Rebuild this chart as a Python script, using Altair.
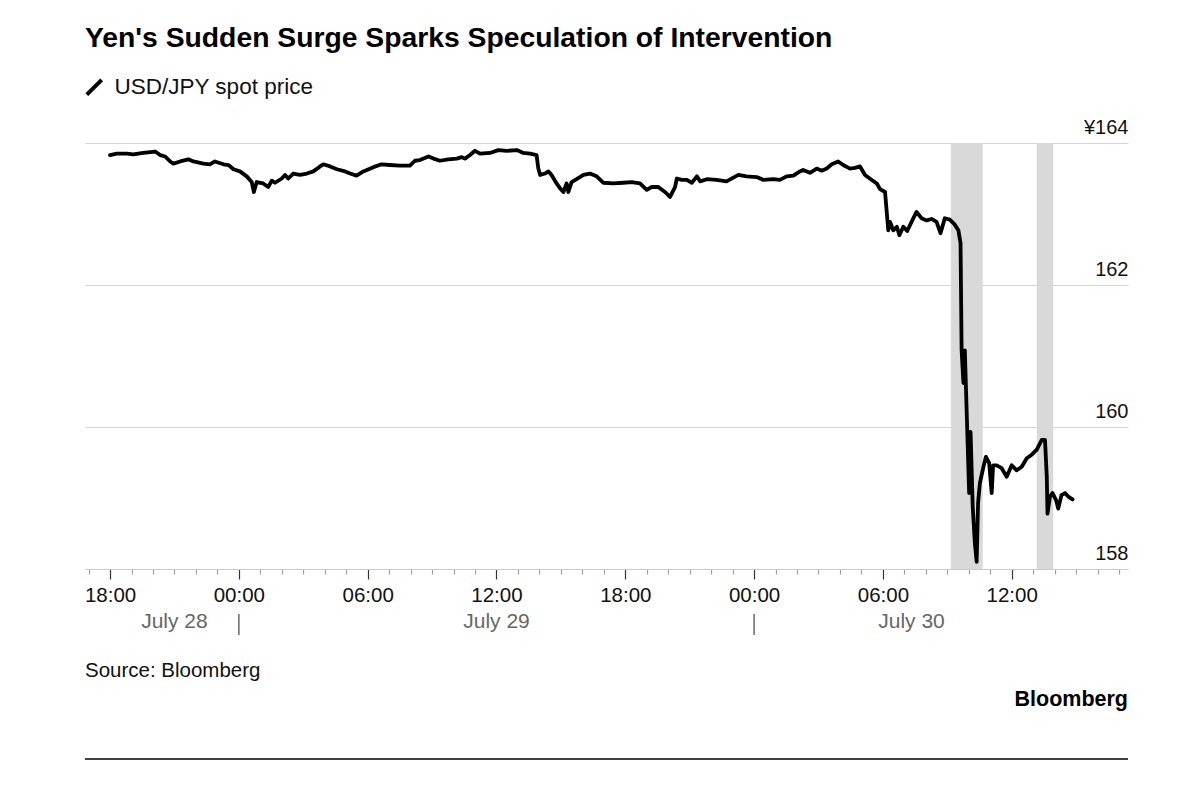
import altair as alt
import pandas as pd

# USD/JPY spot price, sampled as minutes after 18:00 on July 28
minutes = [0, 19, 47, 65, 93, 126, 140, 154, 168, 177, 196, 219, 233, 261, 279, 293, 317, 331, 345, 363,
           382, 396, 402, 410, 428, 442, 452, 461, 480, 489, 498, 512, 531, 550, 568, 587, 596, 615, 634, 657,
           671, 689, 708, 736, 759, 782, 810, 838, 852, 866, 890, 904, 922, 945, 969, 983, 992, 1006, 1020, 1034,
           1062, 1085, 1109, 1137, 1155, 1174, 1192, 1197, 1202, 1216, 1225, 1234, 1248, 1258, 1267, 1276, 1281, 1290, 1304, 1323,
           1341, 1360, 1379, 1407, 1434, 1458, 1481, 1500, 1513, 1532, 1551, 1565, 1579, 1584, 1598, 1612, 1626, 1640, 1649, 1668,
           1695, 1723, 1756, 1779, 1807, 1826, 1854, 1872, 1891, 1910, 1928, 1937, 1956, 1975, 1989, 2003, 2017, 2035, 2049, 2068,
           2082, 2096, 2110, 2129, 2143, 2152, 2166, 2175, 2180, 2189, 2199, 2206, 2217, 2228, 2243, 2254, 2268, 2282, 2296, 2310,
           2321, 2333, 2347, 2361, 2371, 2377, 2380, 2385, 2389, 2394, 2401, 2405, 2411, 2417, 2422, 2426, 2431, 2441, 2448, 2457,
           2464, 2468, 2478, 2492, 2506, 2520, 2534, 2548, 2562, 2576, 2590, 2604, 2613, 2618, 2620, 2627, 2634, 2644, 2650, 2659,
           2669, 2678, 2690]
price = [163.83, 163.85, 163.85, 163.84, 163.86, 163.88, 163.83, 163.81, 163.74, 163.71, 163.74, 163.77, 163.74, 163.71, 163.70, 163.74, 163.70, 163.69, 163.63, 163.60,
         163.53, 163.45, 163.31, 163.45, 163.43, 163.38, 163.47, 163.44, 163.50, 163.55, 163.50, 163.57, 163.55, 163.57, 163.60, 163.67, 163.70, 163.67, 163.63, 163.60,
         163.57, 163.54, 163.60, 163.66, 163.70, 163.69, 163.68, 163.68, 163.75, 163.76, 163.81, 163.78, 163.75, 163.77, 163.78, 163.80, 163.78, 163.83, 163.89, 163.85,
         163.86, 163.90, 163.89, 163.90, 163.86, 163.85, 163.83, 163.64, 163.55, 163.57, 163.60, 163.55, 163.43, 163.36, 163.31, 163.43, 163.31, 163.45, 163.49, 163.55,
         163.57, 163.53, 163.44, 163.43, 163.44, 163.45, 163.43, 163.34, 163.38, 163.38, 163.31, 163.24, 163.38, 163.50, 163.48, 163.48, 163.44, 163.53, 163.46, 163.49,
         163.48, 163.46, 163.55, 163.53, 163.52, 163.48, 163.49, 163.48, 163.53, 163.54, 163.60, 163.62, 163.58, 163.64, 163.61, 163.64, 163.70, 163.74, 163.69, 163.64,
         163.65, 163.67, 163.55, 163.48, 163.43, 163.35, 163.31, 162.77, 162.89, 162.77, 162.82, 162.70, 162.82, 162.76, 162.92, 163.03, 162.94, 162.91, 162.93, 162.89,
         162.73, 162.94, 162.92, 162.85, 162.77, 162.59, 161.08, 160.62, 161.08, 160.24, 159.07, 159.93, 158.88, 158.36, 158.10, 158.93, 159.21, 159.44, 159.58, 159.49,
         159.07, 159.46, 159.46, 159.42, 159.30, 159.46, 159.39, 159.44, 159.56, 159.61, 159.68, 159.82, 159.82, 159.30, 158.78, 159.02, 159.07, 158.97, 158.85, 159.04,
         159.07, 159.02, 158.98]
series_name = "USD/JPY spot price"

# Shaded windows on July 30
band_start = ["2024-07-30T09:10:00", "2024-07-30T13:10:00"]
band_end = ["2024-07-30T10:39:00", "2024-07-30T13:56:00"]

# Axis labelling
y_ticks = [158, 160, 162, 164]
day_labels = ["July 28", "July 29", "July 30"]
day_label_at = ["2024-07-28T21:00:00", "2024-07-29T12:00:00", "2024-07-30T07:20:00"]
day_breaks = ["2024-07-29T00:00:00", "2024-07-30T00:00:00"]

title_text = "Yen's Sudden Surge Sparks Speculation of Intervention"
source_text = "Source: Bloomberg"
brand_text = "Bloomberg"

FONT = "Liberation Sans"
W, H = 1043, 426

start = pd.Timestamp("2024-07-28 18:00")
prices = pd.DataFrame({
    "time": (start + pd.to_timedelta(minutes, unit="min")).strftime("%Y-%m-%dT%H:%M:%S"),
    "price": price,
    "series": series_name,
})
bands = pd.DataFrame({"start": band_start, "end": band_end})
days = pd.DataFrame({"time": day_label_at, "label": day_labels})
breaks = pd.DataFrame({"time": day_breaks})


def dt(ts):
    t = pd.Timestamp(ts)
    return alt.DateTime(year=t.year, month=t.month, date=t.day, hours=t.hour, minutes=t.minute)


hour_ticks = [dt(t) for t in pd.date_range("2024-07-28 17:00", "2024-07-30 17:00", freq="h")]
x_scale = alt.Scale(domain=[dt("2024-07-28 16:50"), dt("2024-07-30 17:25")])
major = "hours(datum.value) % 6 === 0"
x_axis = alt.Axis(
    values=hour_ticks,
    labelExpr=f"{major} ? timeFormat(datum.value, '%H:%M') : ''",
    grid=False,
    domainColor="#cccccc",
    domainWidth=1,
    tickColor={"condition": {"test": major, "value": "#333333"}, "value": "#a0a0a0"},
    tickSize={"condition": {"test": major, "value": 10}, "value": 5},
    tickWidth=1.2,
    labelFont=FONT,
    labelFontSize=20.5,
    labelColor="#111111",
    labelBaseline="alphabetic",
    labelPadding=22,
    labelFlush=False,
    labelOverlap=False,
    labelBound=False,
    title=None,
)
y_scale = alt.Scale(domain=[158, 164], nice=False, zero=False)
y_axis = alt.Axis(
    orient="right",
    values=y_ticks,
    grid=True,
    gridColor="#d4d4d4",
    gridWidth=1,
    domain=False,
    ticks=False,
    labelAlign="right",
    labelBaseline="alphabetic",
    labelPadding=0,
    labelOffset=-10,
    labelFont=FONT,
    labelFontSize=20,
    labelColor="#111111",
    labelExpr="datum.value === 164 ? '¥' + datum.label : datum.label",
    title=None,
)

shade = alt.Chart(bands).mark_rect(color="#d9d9d9").encode(
    x=alt.X("start:T", scale=x_scale, axis=x_axis),
    x2="end:T",
    y=alt.value(0),
    y2=alt.value(H),
)

line = alt.Chart(prices).mark_line(strokeWidth=3.8, strokeJoin="round", strokeCap="round").encode(
    x=alt.X("time:T", scale=x_scale, axis=x_axis),
    y=alt.Y("price:Q", scale=y_scale, axis=y_axis),
    color=alt.Color(
        "series:N",
        scale=alt.Scale(range=["#000000"]),
        legend=alt.Legend(
            title=None,
            orient="none",
            legendX=-2,
            legendY=-67,
            symbolType="M-1,1L1,-1",
            symbolSize=220,
            symbolStrokeWidth=4,
            labelFont=FONT,
            labelFontSize=22.5,
            labelColor="#111111",
            labelOffset=9,
            labelLimit=0,
            padding=0,
        ),
    ),
)

day_text = alt.Chart(days).mark_text(
    font=FONT, fontSize=21, color="#666666", baseline="alphabetic", align="center"
).encode(
    x=alt.X("time:T", scale=x_scale, axis=x_axis),
    y=alt.value(485),
    text="label:N",
)

day_sep = alt.Chart(breaks).mark_rule(color="#666666", strokeWidth=1.5).encode(
    x=alt.X("time:T", scale=x_scale, axis=x_axis),
    y=alt.value(471),
    y2=alt.value(492),
)

title = alt.Chart(pd.DataFrame({"t": [title_text]})).mark_text(
    font=FONT, fontSize=28.3, fontWeight="bold", color="#000000", align="left", baseline="alphabetic"
).encode(x=alt.value(0), y=alt.value(-96), text="t:N")

source = alt.Chart(pd.DataFrame({"t": [source_text]})).mark_text(
    font=FONT, fontSize=20.5, color="#111111", align="left", baseline="alphabetic"
).encode(x=alt.value(0), y=alt.value(534), text="t:N")

brand = alt.Chart(pd.DataFrame({"t": [brand_text]})).mark_text(
    font=FONT, fontSize=21.5, fontWeight="bold", color="#000000", align="right", baseline="alphabetic"
).encode(x=alt.value(W), y=alt.value(563), text="t:N")

footer_rule = alt.Chart(pd.DataFrame({"t": [0]})).mark_rule(color="#000000", strokeWidth=1.5).encode(
    x=alt.value(0), x2=alt.value(W), y=alt.value(616)
)

chart = alt.layer(shade, line, day_text, day_sep, title, source, brand, footer_rule).properties(
    width=W,
    height=H,
    autosize=alt.AutoSizeParams(type="none"),
    padding={"left": 85, "top": 143, "right": 72, "bottom": 220},
    background="#ffffff",
).configure_view(stroke=None)

chart.save("out.html", embed_options={"renderer": "svg", "actions": False})
